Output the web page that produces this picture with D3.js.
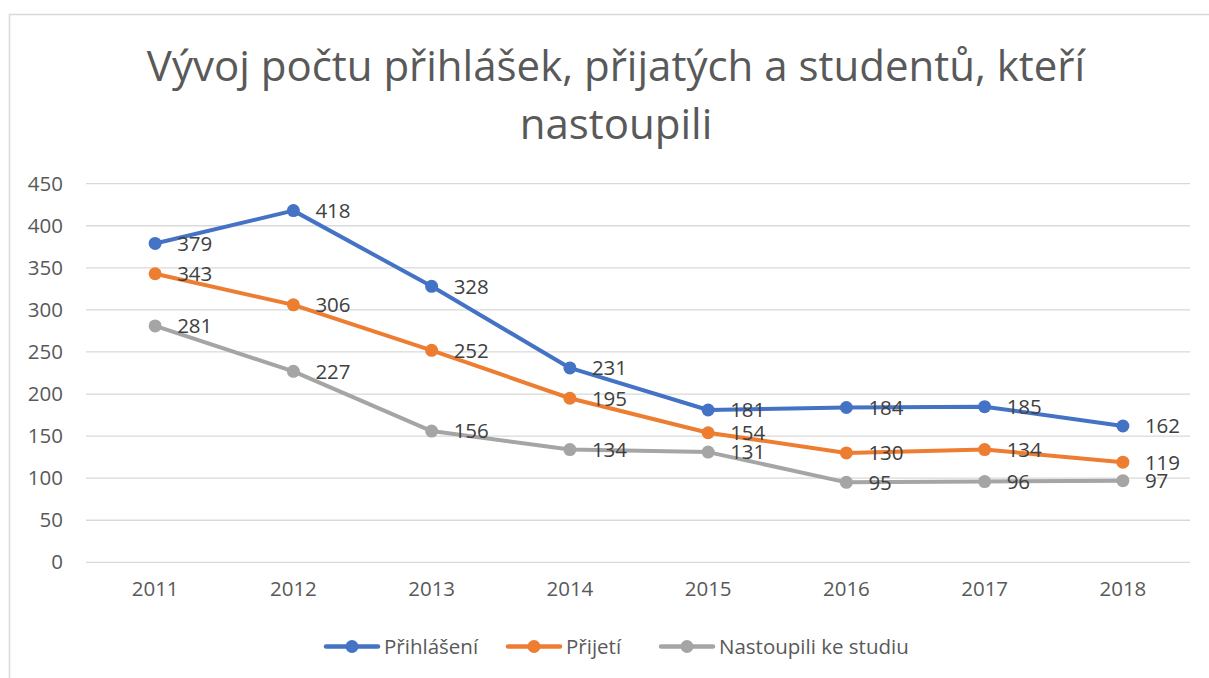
<!DOCTYPE html>
<html>
<head>
<meta charset="utf-8">
<script src="https://cdn.jsdelivr.net/npm/d3@7"></script>
<style>
  body { margin: 0; background: #fff; }
  text { font-family: "Open Sans", "Noto Sans", sans-serif; }
</style>
</head>
<body>
<div id="chart"></div>
<script>
"use strict";

const years = ["2011", "2012", "2013", "2014", "2015", "2016", "2017", "2018"];
const prihlaseni = [379, 418, 328, 231, 181, 184, 185, 162];
const prijeti = [343, 306, 252, 195, 154, 130, 134, 119];
const nastoupili = [281, 227, 156, 134, 131, 95, 96, 97];
const seriesNames = ["Přihlášení", "Přijetí", "Nastoupili ke studiu"];
const yTicks = [0, 50, 100, 150, 200, 250, 300, 350, 400, 450];

const W = 1209;
const H = 678;
const colors = ["#4472C4", "#ED7D31", "#A5A5A5"];

const series = [prihlaseni, prijeti, nastoupili].map((vals, k) => ({
  name: seriesNames[k],
  color: colors[k],
  values: vals.map((v, i) => ({ year: years[i], value: v })),
}));

const svg = d3
  .select("#chart")
  .append("svg")
  .attr("width", W)
  .attr("height", H);

// chart frame
svg
  .append("rect")
  .attr("x", 9.5)
  .attr("y", 14.5)
  .attr("width", 1400)
  .attr("height", 800)
  .attr("fill", "none")
  .attr("stroke", "#d9d9d9")
  .attr("stroke-width", 1.5);

// title
const title = svg
  .append("text")
  .attr("text-anchor", "middle")
  .attr("fill", "#595959")
  .attr("font-size", "42px");
title.append("tspan").attr("x", 616).attr("y", 81).text("Vývoj počtu přihlášek, přijatých a studentů, kteří");
title.append("tspan").attr("x", 616).attr("y", 139).text("nastoupili");

const x = d3.scaleBand().domain(years).range([86, 1192]);
const y = d3.scaleLinear().domain([0, 450]).range([562.3, 183.7]);

// gridlines
svg
  .append("g")
  .selectAll("line")
  .data(yTicks)
  .enter()
  .append("line")
  .attr("x1", 86)
  .attr("x2", 1190)
  .attr("y1", (d) => y(d))
  .attr("y2", (d) => y(d))
  .attr("stroke", "#d9d9d9")
  .attr("stroke-width", 1.3);

// y axis labels
const yAxis = svg
  .append("g")
  .attr("transform", "translate(76,0)")
  .call(d3.axisLeft(y).tickValues(yTicks).tickSize(0).tickPadding(13));
yAxis.select(".domain").remove();
yAxis
  .selectAll("text")
  .attr("fill", "#595959")
  .attr("font-size", "20.5px")
  .attr("font-family", "Open Sans, sans-serif");

// x axis labels
const xAxis = svg
  .append("g")
  .attr("transform", "translate(0,562.3)")
  .call(d3.axisBottom(x).tickSize(0).tickPadding(19));
xAxis.select(".domain").remove();
xAxis
  .selectAll("text")
  .attr("fill", "#595959")
  .attr("font-size", "20.5px")
  .attr("font-family", "Open Sans, sans-serif");

const cx = (d) => x(d.year) + x.bandwidth() / 2;

const line = d3
  .line()
  .x(cx)
  .y((d) => y(d.value));

const g = svg
  .selectAll(".series")
  .data(series)
  .enter()
  .append("g")
  .attr("class", "series");

g.append("path")
  .attr("d", (s) => line(s.values))
  .attr("fill", "none")
  .attr("stroke", (s) => s.color)
  .attr("stroke-width", 4)
  .attr("stroke-linejoin", "round")
  .attr("stroke-linecap", "round");

g.selectAll("circle")
  .data((s) => s.values.map((v) => ({ ...v, color: s.color })))
  .enter()
  .append("circle")
  .attr("cx", cx)
  .attr("cy", (d) => y(d.value))
  .attr("r", 6.5)
  .attr("fill", (d) => d.color);

g.selectAll(".lbl")
  .data((s) => s.values)
  .enter()
  .append("text")
  .attr("class", "lbl")
  .attr("x", (d) => cx(d) + 22)
  .attr("y", (d) => y(d.value))
  .attr("dy", "0.36em")
  .attr("fill", "#404040")
  .attr("font-size", "20.5px")
  .text((d) => d.value);

// legend
const legendX = [324, 506, 659];
const leg = svg
  .selectAll(".leg")
  .data(series)
  .enter()
  .append("g")
  .attr("class", "leg")
  .attr("transform", (d, i) => `translate(${legendX[i]},646.5)`);

leg
  .append("line")
  .attr("x1", 2)
  .attr("x2", 54)
  .attr("stroke", (d) => d.color)
  .attr("stroke-width", 4.5)
  .attr("stroke-linecap", "round");
leg
  .append("circle")
  .attr("cx", 28)
  .attr("r", 6.5)
  .attr("fill", (d) => d.color);
leg
  .append("text")
  .attr("x", 60)
  .attr("dy", "0.35em")
  .attr("fill", "#595959")
  .attr("font-size", "20.5px")
  .text((d) => d.name);
</script>
</body>
</html>
